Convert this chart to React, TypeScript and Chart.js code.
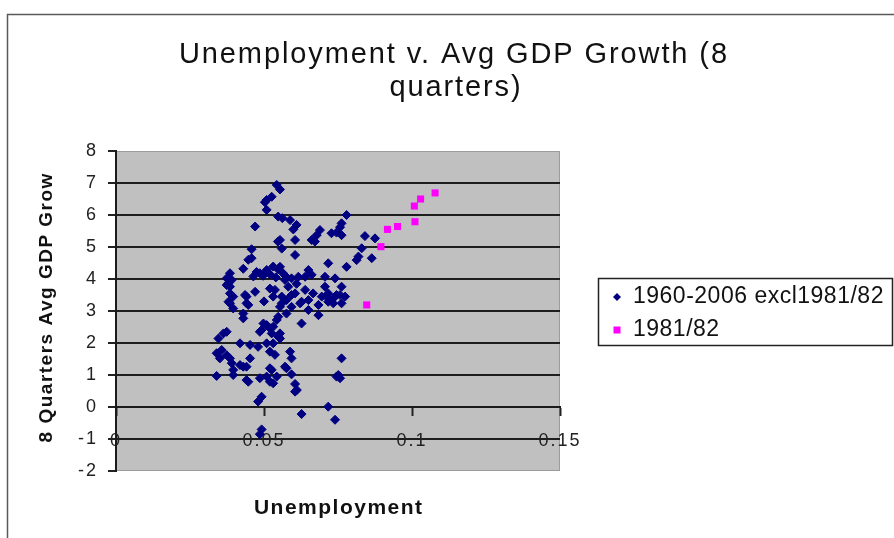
import React, { useEffect, useRef } from 'react';
import { Chart, registerables } from 'chart.js';

Chart.register(...registerables);

const TITLE_LINES = ['Unemployment v. Avg GDP Growth (8', 'quarters)'];
const X_TITLE = 'Unemployment';
const Y_TITLE = '8 Quarters Avg GDP Grow';
const SERIES_NAMES = ['1960-2006 excl1981/82', '1981/82'];
const X_TICKS = [0, 0.05, 0.1, 0.15];
const Y_TICKS = [-2, -1, 0, 1, 2, 3, 4, 5, 6, 7, 8];

// 1960-2006 excluding 1981/82: unemployment rate vs 8-quarter average GDP growth
const mainUnemployment = [
  0.0543, 0.0554, 0.0526, 0.0509, 0.0503, 0.0509, 0.047, 0.0548, 0.0562, 0.0588, 0.061, 0.0599, 0.0779, 0.0762, 0.0689, 0.0757,
  0.0745, 0.0762, 0.0728, 0.0678, 0.0661, 0.0672, 0.0841, 0.0875, 0.0554, 0.056, 0.0605, 0.0547, 0.0458, 0.083,
  0.0605, 0.0458, 0.0447, 0.043, 0.0385, 0.0374, 0.0379, 0.0717, 0.0779, 0.0819, 0.0864, 0.0554, 0.0464, 0.0486, 0.0509, 0.0531,
  0.0548, 0.0475, 0.0497, 0.052, 0.054, 0.0562, 0.0572, 0.065, 0.0661, 0.0639, 0.0616, 0.0593, 0.0571, 0.0706, 0.074, 0.0762, 0.0813,
  0.0706, 0.0717, 0.0695, 0.0734, 0.0745, 0.0774, 0.0537, 0.0582, 0.0605, 0.056, 0.0639, 0.065, 0.0627, 0.0391, 0.0385, 0.0396,
  0.038, 0.0441, 0.0531, 0.0374, 0.0385, 0.0436, 0.0441, 0.0576, 0.0593, 0.0554, 0.0622, 0.0666, 0.0711, 0.0734, 0.0757, 0.056,
  0.0593, 0.065, 0.0684, 0.0717, 0.0762, 0.0385, 0.0396, 0.0447, 0.047, 0.05, 0.052, 0.061,
  0.043, 0.043, 0.0548, 0.0627, 0.0684, 0.0576, 0.0492, 0.0509, 0.0531, 0.0526, 0.0543, 0.0498, 0.052, 0.0486, 0.0363, 0.0374,
  0.0346, 0.0554, 0.0548, 0.0554,
  0.0419, 0.0453, 0.048, 0.0509, 0.034, 0.0357, 0.0374, 0.0351, 0.0385, 0.0391, 0.0396, 0.0419, 0.0441, 0.0453, 0.0537, 0.052,
  0.0531, 0.0588, 0.0593, 0.0762, 0.0571, 0.052, 0.0576, 0.043, 0.0526,
  0.034, 0.0396, 0.0447, 0.0441, 0.0486, 0.0509, 0.052, 0.0531, 0.0543, 0.0593, 0.0605, 0.0611, 0.0605, 0.0751, 0.0757, 0.0745,
  0.0492, 0.048, 0.0717,
  0.0627, 0.074, 0.0492, 0.0486,
];
const mainGrowth = [
  6.94, 6.8, 6.57, 6.47, 6.4, 6.16, 5.64, 5.95, 5.9, 5.84, 5.69, 5.55, 6.0, 5.74, 5.53, 5.62,
  5.45, 5.37, 5.43, 5.37, 5.22, 5.17, 5.34, 5.27, 5.22, 4.95, 5.22, 5.17, 4.93, 4.96,
  4.75, 4.65, 4.6, 4.32, 4.18, 4.02, 3.86, 4.49, 4.38, 4.7, 4.65, 4.38, 4.08, 4.18, 4.28, 4.39,
  4.3, 4.22, 4.1, 4.15, 4.05, 4.2, 4.1, 4.28, 4.13, 4.07, 4.07, 4.02, 3.97, 4.07, 4.02, 3.76, 4.59,
  3.76, 3.55, 3.45, 3.39, 3.5, 3.45, 3.66, 3.76, 3.55, 3.45, 3.66, 3.34, 3.29, 3.97, 3.76, 3.45,
  3.29, 3.45, 3.45, 3.81, 3.55, 3.5, 3.24, 3.34, 3.5, 3.13, 3.24, 3.55, 3.45, 3.24, 3.5, 3.24,
  3.13, 3.03, 3.19, 3.29, 3.24, 3.24, 3.08, 3.19, 3.6, 3.3, 3.7, 3.85,
  2.92, 2.77, 2.82, 2.61, 2.87, 2.92, 2.41, 2.56, 2.51, 2.3, 2.72, 2.61, 2.46, 2.35, 2.3, 2.35,
  2.14, 2.3, 2.2, 2.14,
  1.99, 1.94, 1.88, 1.99, 1.68, 1.78, 1.62, 1.52, 1.52, 1.37, 1.16, 1.31, 1.26, 1.52, 1.63, 1.73,
  1.99, 1.73, 1.52, 1.52, 1.26, 1.21, 1.21, 1.26, 1.16,
  0.97, 1.0, 0.79, 0.84, 0.9, 0.95, 0.79, 0.74, 0.95, 1.02, 0.72, 0.53, 0.48, 1.0, 0.9, 0.95,
  0.32, 0.17, 0.01,
  -0.22, -0.4, -0.7, -0.85,
];

// 1981/82
const crisisUnemployment = [0.1078, 0.1029, 0.1008, 0.101, 0.0951, 0.0917, 0.0895, 0.0847];
const crisisGrowth = [6.69, 6.5, 6.28, 5.79, 5.64, 5.55, 5.01, 3.19];

const BLUE = '#000080';
const MAGENTA = '#ff00ff';
const FONT = "'Liberation Sans', Arial, sans-serif";

function drawText(
  ctx: CanvasRenderingContext2D,
  s: string,
  x: number,
  y: number,
  font: string,
  spacing: number,
  align: CanvasTextAlign = 'center',
  rotate = 0
) {
  ctx.save();
  ctx.font = font;
  (ctx as any).letterSpacing = spacing + 'px';
  ctx.textAlign = align;
  ctx.textBaseline = 'middle';
  ctx.fillStyle = '#111';
  ctx.translate(x, y);
  if (rotate) ctx.rotate(rotate);
  ctx.fillText(s, align === 'center' ? spacing / 2 : 0, 0);
  ctx.restore();
}

const decorPlugin = {
  id: 'excelDecor',
  beforeDraw(chart: any) {
    const { ctx, chartArea: a } = chart;
    ctx.save();
    ctx.fillStyle = '#ffffff';
    ctx.fillRect(0, 0, chart.width, chart.height);
    ctx.strokeStyle = '#5a5a5a';
    ctx.lineWidth = 1.5;
    ctx.strokeRect(7.5, 14.5, 1200, 1200);
    ctx.fillStyle = '#c0c0c0';
    ctx.fillRect(a.left, a.top, a.right - a.left, a.bottom - a.top);
    ctx.strokeStyle = '#9c9c9c';
    ctx.lineWidth = 1;
    ctx.strokeRect(a.left + 0.5, a.top + 0.5, a.right - a.left - 1, a.bottom - a.top - 1);
    ctx.restore();
    (ctx as any).letterSpacing = '2px';
  },
  beforeDatasetsDraw(chart: any) {
    (chart.ctx as any).letterSpacing = '0px';
  },
  afterDraw(chart: any) {
    const ctx: CanvasRenderingContext2D = chart.ctx;
    (ctx as any).letterSpacing = '0px';
    const a = chart.chartArea;
    // title
    drawText(ctx, TITLE_LINES[0], 453, 55, `29px ${FONT}`, 1.9);
    drawText(ctx, TITLE_LINES[1], 455, 88, `29px ${FONT}`, 1.9);
    // axis titles
    drawText(ctx, X_TITLE, (a.left + a.right) / 2, 508, `bold 21px ${FONT}`, 1.5);
    drawText(ctx, Y_TITLE, 47, (a.top + a.bottom) / 2 - 3, `bold 19px ${FONT}`, 1.5, 'center', -Math.PI / 2);
    // legend
    ctx.save();
    ctx.fillStyle = '#ffffff';
    ctx.fillRect(598.5, 278.5, 294, 67);
    ctx.strokeStyle = '#222';
    ctx.lineWidth = 1.5;
    ctx.strokeRect(598.5, 278.5, 294, 67);
    const ds = chart.data.datasets;
    // diamond
    ctx.fillStyle = ds[0].backgroundColor;
    ctx.beginPath();
    ctx.moveTo(617, 293);
    ctx.lineTo(621, 297);
    ctx.lineTo(617, 301);
    ctx.lineTo(613, 297);
    ctx.closePath();
    ctx.fill();
    // square
    ctx.fillStyle = ds[1].backgroundColor;
    ctx.fillRect(613.5, 326.5, 7, 7);
    ctx.restore();
    drawText(ctx, ds[0].label, 633, 297, `23px ${FONT}`, 0.5, 'left');
    drawText(ctx, ds[1].label, 633, 330, `23px ${FONT}`, 0.5, 'left');
  },
};

export default function App() {
  const ref = useRef<HTMLCanvasElement>(null);
  useEffect(() => {
    document.body.style.margin = '0';
    const canvas = ref.current!;
    const chart = new Chart(canvas, {
      type: 'scatter',
      data: {
        datasets: [
          {
            label: SERIES_NAMES[0],
            data: mainUnemployment.map((x, i) => ({ x, y: mainGrowth[i] })),
            pointStyle: 'rectRot',
            pointRadius: 4.5,
            pointHoverRadius: 4.5,
            backgroundColor: BLUE,
            borderColor: BLUE,
            borderWidth: 1,
            order: 1,
          },
          {
            label: SERIES_NAMES[1],
            data: crisisUnemployment.map((x, i) => ({ x, y: crisisGrowth[i] })),
            pointStyle: 'rect',
            pointRadius: 5,
            pointHoverRadius: 5,
            backgroundColor: MAGENTA,
            borderColor: MAGENTA,
            borderWidth: 0,
            order: 0,
          },
        ],
      },
      options: {
        responsive: false,
        animation: false,
        events: [],
        layout: { padding: { left: 0, top: 151, right: 334, bottom: 67 } },
        plugins: {
          legend: { display: false },
          title: { display: false },
          tooltip: { enabled: false },
        },
        scales: {
          x: {
            type: 'linear',
            position: { y: 0 } as any,
            min: X_TICKS[0],
            max: X_TICKS[X_TICKS.length - 1],
            afterBuildTicks: (s: any) => {
              s.ticks = X_TICKS.map((value) => ({ value }));
            },
            afterFit: (s: any) => {
              s.height = 0;
            },
            ticks: {
              autoSkip: false,
              maxRotation: 0,
              padding: 15,
              color: '#222',
              font: { family: FONT, size: 18 },
              callback: (v: any) => String(v),
            },
            grid: { drawOnChartArea: false, tickLength: 8, tickColor: '#222', tickWidth: 2 },
            border: { display: true, color: '#1a1a1a', width: 2 },
          },
          y: {
            type: 'linear',
            min: Y_TICKS[0],
            max: Y_TICKS[Y_TICKS.length - 1],
            afterBuildTicks: (s: any) => {
              s.ticks = Y_TICKS.map((value) => ({ value }));
            },
            afterFit: (s: any) => {
              s.width = 116;
            },
            ticks: {
              padding: 10,
              color: '#222',
              font: { family: FONT, size: 18 },
              callback: (v: any) => String(v),
            },
            grid: {
              color: (c: any) =>
                c.tick && (c.tick.value === Y_TICKS[0] || c.tick.value === Y_TICKS[Y_TICKS.length - 1])
                  ? 'rgba(0,0,0,0)'
                  : '#1e1e1e',
              lineWidth: 2,
              tickLength: 8,
              tickColor: '#222',
              tickWidth: 2,
            },
            border: { display: true, color: '#1a1a1a', width: 2 },
          },
        },
      },
      plugins: [decorPlugin],
    });
    return () => chart.destroy();
  }, []);
  return (
    <div style={{ width: 894, height: 538 }}>
      <canvas ref={ref} width={894} height={538} style={{ display: 'block', width: 894, height: 538 }} />
    </div>
  );
}
